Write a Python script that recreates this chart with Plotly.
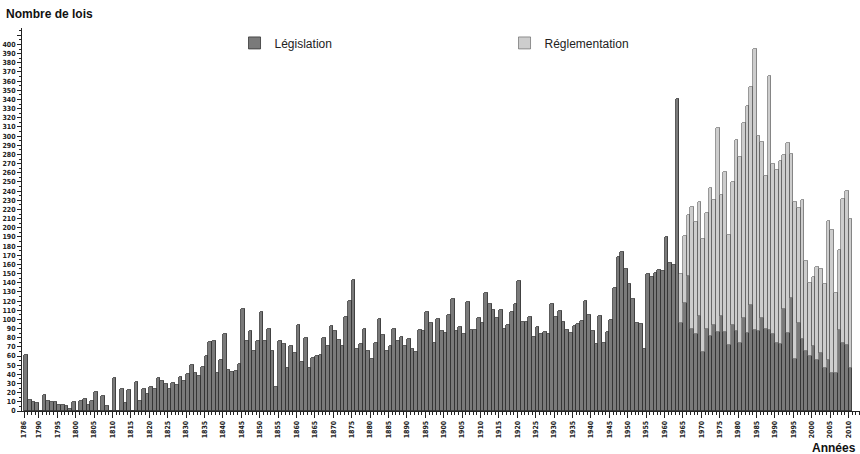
import plotly.graph_objects as go

# Years 1786..2010 (one bar per year)
years = list(range(1786, 2011))

legislation = [
    61, 12, 10, 9, 0, 17, 11, 10, 10, 7,          # 1786-1795
    7, 6, 2, 10, 0, 11, 13, 7, 11, 21,            # 1796-1805
    0, 16, 6, 0, 36, 0, 24, 9, 23, 0,             # 1806-1815
    32, 11, 24, 19, 26, 24, 36, 33, 30, 24,       # 1816-1825
    31, 28, 37, 33, 40, 50, 41, 38, 48, 60,       # 1826-1835
    75, 76, 42, 56, 84, 45, 43, 44, 51, 111,      # 1836-1845
    76, 87, 66, 76, 108, 76, 90, 66, 26, 76,      # 1846-1855
    73, 47, 71, 63, 94, 54, 80, 47, 58, 60,       # 1856-1865
    61, 80, 71, 93, 87, 77, 71, 103, 120, 143,    # 1866-1875
    68, 73, 90, 65, 57, 74, 100, 83, 66, 71,      # 1876-1885
    90, 76, 81, 71, 79, 68, 64, 88, 87, 108,      # 1886-1895
    96, 74, 100, 87, 85, 105, 122, 87, 92, 84,    # 1896-1905
    119, 88, 88, 102, 96, 129, 117, 110, 101, 110,  # 1906-1915
    90, 94, 108, 117, 142, 97, 97, 103, 81, 92,   # 1916-1925
    84, 86, 84, 117, 103, 109, 97, 88, 85, 93,    # 1926-1935
    95, 98, 120, 105, 87, 73, 104, 74, 86, 99,    # 1936-1945
    134, 168, 174, 155, 139, 122, 96, 95, 68, 149,  # 1946-1955
    146, 151, 154, 153, 190, 161, 159, 341, 96, 118,  # 1956-1965
    147, 90, 84, 104, 64, 90, 82, 94, 86, 104,    # 1966-1975
    86, 72, 94, 87, 74, 101, 85, 116, 88, 87,     # 1976-1985
    101, 89, 88, 84, 74, 73, 111, 85, 123, 57,    # 1986-1995
    96, 79, 65, 60, 71, 56, 63, 47, 56, 42,       # 1996-2005
    42, 88, 74, 72, 47,                           # 2006-2010
]

reg_years = list(range(1964, 2011))
reglementation = [
    54, 73, 67, 133, 122, 124, 124, 126, 161, 136,    # 1964-1973
    223, 132, 175, 120, 156, 209, 203, 213, 248, 238,  # 1974-1983
    307, 213, 193, 167, 278, 186, 189, 200, 168, 208,  # 1984-1993
    158, 171, 126, 151, 99, 80, 75, 101, 92, 92,       # 1994-2003
    151, 156, 87, 88, 157, 168, 163,                   # 2004-2010
]

x_tick_vals = [1786] + list(range(1790, 2011, 5))
x_tick_text = [str(v) for v in x_tick_vals]
y_tick_vals = list(range(0, 411, 10))
y_tick_text = [str(v) if v <= 400 else "" for v in y_tick_vals]

TICKFONT = dict(family="Liberation Sans Narrow, DejaVu Sans Condensed, Arial Narrow, sans-serif",
                size=7, color="#222", weight="bold")

fig = go.Figure()
fig.add_trace(go.Bar(
    x=[y + 0.5 for y in years], y=legislation, width=1.0,
    name="Législation", legend="legend",
    marker=dict(color="#7a7a7a", line=dict(color="#333333", width=0.8)),
))
fig.add_trace(go.Bar(
    x=[y + 0.5 for y in reg_years], y=reglementation, width=1.0,
    name="Réglementation", legend="legend2",
    marker=dict(color="#cdcdcd", line=dict(color="#555555", width=0.6)),
))

LEG = dict(orientation="h", yanchor="middle", xanchor="left", y=0.961,
           itemwidth=30, font=dict(size=12, color="#222"),
           bgcolor="rgba(0,0,0,0)")

fig.update_layout(
    width=860, height=454,
    margin=dict(l=22, r=0, t=28, b=43),
    paper_bgcolor="white", plot_bgcolor="white",
    barmode="stack", bargap=0,
    font=dict(family="Liberation Sans, Arial, sans-serif", color="#222"),
    showlegend=True,
    legend=dict(LEG, x=0.2536),
    legend2=dict(LEG, x=0.5758),
    annotations=[
        dict(text="<b>Nombre de lois</b>", xref="paper", yref="paper",
             x=-0.0215, y=1.0366, xanchor="left", yanchor="middle", showarrow=False,
             font=dict(size=12, color="#111", family="Liberation Sans, Arial, sans-serif")),
        dict(text="<b>Années</b>", xref="paper", yref="paper",
             x=0.9976, y=-0.0966, xanchor="right", yanchor="middle", showarrow=False,
             font=dict(size=12, color="#111", family="Liberation Sans, Arial, sans-serif")),
    ],
)

fig.update_xaxes(
    range=[1785.4, 2013.1], showgrid=False, zeroline=False,
    showline=True, linecolor="#222", linewidth=1,
    tickmode="array", tickvals=x_tick_vals, ticktext=x_tick_text,
    ticks="outside", ticklen=6, tickcolor="#222", tickwidth=1,
    tickangle=-90, tickfont=TICKFONT,
    minor=dict(tick0=1786, dtick=1, ticks="outside", ticklen=3, tickcolor="#222", tickwidth=1),
)
fig.update_yaxes(
    range=[0, 418], showgrid=False, zeroline=False,
    showline=True, linecolor="#222", linewidth=1,
    tickmode="array", tickvals=y_tick_vals, ticktext=y_tick_text,
    ticks="outside", ticklen=4, tickcolor="#222", tickwidth=1,
    tickfont=TICKFONT,
    minor=dict(tick0=0, dtick=5, ticks="outside", ticklen=2, tickcolor="#222", tickwidth=1),
)

fig.write_html("out.html", config={"displayModeBar": False},
               post_script="document.body.style.margin='0';document.body.style.overflow='hidden';")
